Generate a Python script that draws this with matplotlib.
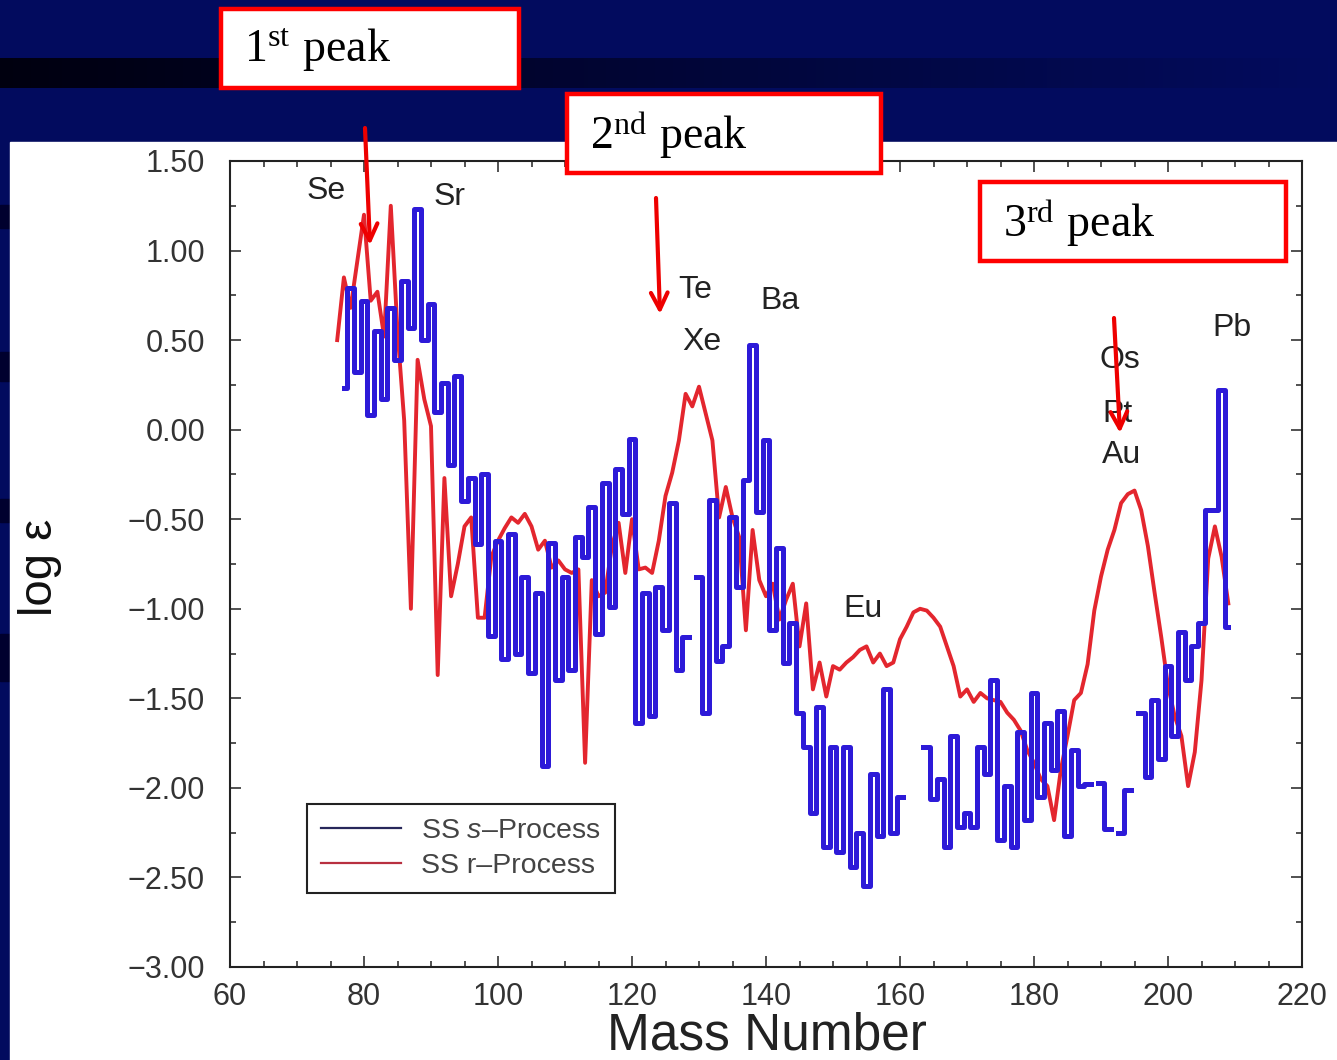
import numpy as np
import matplotlib
matplotlib.use('Agg')
import matplotlib.pyplot as plt
from matplotlib.patches import Rectangle, FancyArrowPatch
from matplotlib.lines import Line2D
from matplotlib.ticker import MultipleLocator, FuncFormatter

plt.rcParams['font.family'] = ['Liberation Sans', 'DejaVu Sans']
plt.rcParams['mathtext.fontset'] = 'custom'
plt.rcParams['mathtext.rm'] = 'Liberation Serif'
plt.rcParams['mathtext.it'] = 'Liberation Sans:italic'

# solar system s-process abundances (log eps), one value per mass number, nan = no data
s_mass = list(range(77, 210))
s_vals = [0.23, 0.79, 0.32, 0.72, 0.08, 0.55, 0.17, 0.68, 0.39, 0.83,
          0.57, 1.23, 0.50, 0.70, 0.10, 0.26, -0.20, 0.30, -0.40, -0.27,
          -0.64, -0.25, -1.15, -0.62, -1.28, -0.58, -1.25, -0.82, -1.36, -0.91,
          -1.88, -0.63, -1.40, -0.82, -1.34, -0.60, -0.71, -0.43, -1.14, -0.30,
          -0.99, -0.22, -0.47, -0.05, -1.64, -0.91, -1.60, -0.88, -1.12, -0.41,
          -1.34, -1.16, np.nan, -0.82, -1.58, -0.39, -1.29, -1.21, -0.49, -0.88,
          -0.28, 0.47, -0.46, -0.06, -1.12, -0.66, -1.30, -1.08, -1.58, -1.77,
          -2.14, -1.55, -2.33, -1.77, -2.36, -1.77, -2.44, -2.25, -2.55, -1.92,
          -2.27, -1.45, -2.25, -2.05, np.nan, np.nan, np.nan, -1.77, -2.06, -1.95,
          -2.33, -1.71, -2.22, -2.14, -2.22, -1.77, -1.92, -1.40, -2.29, -1.99,
          -2.33, -1.69, -2.18, -1.47, -2.05, -1.64, -1.90, -1.57, -2.27, -1.79,
          -1.99, -1.98, np.nan, -1.97, -2.23, np.nan, -2.25, -2.01, np.nan, -1.58,
          -1.94, -1.51, -1.84, -1.32, -1.71, -1.13, -1.40, -1.21, -1.08, -0.45,
          -0.45, 0.22, -1.10]

# solar system r-process residuals
r_mass = list(range(76, 210))
r_vals = [0.50, 0.85, 0.68, 0.94, 1.20, 0.72, 0.77, 0.52, 1.25, 0.55,
          0.05, -1.00, 0.39, 0.17, 0.02, -1.37, -0.27, -0.93, -0.75, -0.54,
          -0.49, -1.05, -1.05, -0.71, -0.62, -0.55, -0.49, -0.52, -0.47, -0.54,
          -0.67, -0.62, -0.77, -0.73, -0.78, -0.80, -0.78, -1.86, -0.84, -0.93,
          -0.91, -0.65, -0.52, -0.80, -0.50, -0.78, -0.77, -0.80, -0.62, -0.37,
          -0.24, -0.06, 0.20, 0.13, 0.24, 0.09, -0.06, -0.49, -0.32, -0.49,
          -0.60, -1.12, -0.56, -0.84, -0.93, -0.86, -1.06, -0.95, -0.86, -1.21,
          -0.97, -1.45, -1.30, -1.49, -1.32, -1.34, -1.30, -1.27, -1.23, -1.21,
          -1.30, -1.25, -1.32, -1.30, -1.17, -1.10, -1.02, -1.00, -1.01, -1.05,
          -1.10, -1.21, -1.32, -1.49, -1.45, -1.52, -1.47, -1.50, -1.51, -1.52,
          -1.58, -1.62, -1.68, -1.79, -1.86, -1.95, -1.99, -2.18, -1.90, -1.71,
          -1.51, -1.47, -1.31, -1.01, -0.82, -0.67, -0.56, -0.41, -0.36, -0.34,
          -0.45, -0.65, -0.91, -1.16, -1.43, -1.60, -1.71, -1.99, -1.80, -1.40,
          -0.72, -0.54, -0.71, -0.97]

elements = ['Se', 'Sr', 'Te', 'Xe', 'Ba', 'Eu', 'Os', 'Pt', 'Au', 'Pb']
elem_x = [74.3, 92.7, 129.4, 130.4, 142.1, 154.5, 192.8, 192.4, 193.0, 209.6]
elem_y = [1.33, 1.30, 0.78, 0.49, 0.72, -1.00, 0.39, 0.09, -0.14, 0.57]

peak_labels = [r'$\mathrm{1^{st}\ peak}$', r'$\mathrm{2^{nd}\ peak}$', r'$\mathrm{3^{rd}\ peak}$']

W, H = 1337, 1060
fig = plt.figure(figsize=(W / 100, H / 100), dpi=100)
fig.patch.set_facecolor('#020b5e')

# slide background
bg = fig.add_axes([0, 0, 1, 1], zorder=-5)
bg.set_xlim(0, W)
bg.set_ylim(H, 0)
bg.axis('off')
g = np.linspace(0, 1, 300)
left = np.array([0.0, 0.0, 0.06])
right = np.array([0.01, 0.045, 0.37])
band = (left[None, :] * (1 - g[:, None]) + right[None, :] * g[:, None])[None, :, :]
bg.imshow(band, extent=(0, W, 88, 58), aspect='auto', zorder=1)
for y0, y1 in [(205, 228), (352, 381), (499, 522), (634, 681)]:
    bg.add_patch(Rectangle((0, y0), 10, y1 - y0, color='#00002e', zorder=1))
bg.add_patch(Rectangle((10, 142), W - 10, H - 142, color='white', zorder=2))

# main chart
ax = fig.add_axes([230 / W, 93 / H, 1072 / W, 806 / H])
ax.plot(r_mass, r_vals, color='#e3262e', lw=2.8, zorder=3)
ax.plot(s_mass, np.array(s_vals, dtype=float), color='#2d1ad8', lw=3.6,
        drawstyle='steps-mid', zorder=4)

ax.set_xlim(60, 220)
ax.set_ylim(-3.0, 1.5)
ax.xaxis.set_major_locator(MultipleLocator(20))
ax.xaxis.set_minor_locator(MultipleLocator(5))
ax.yaxis.set_major_locator(MultipleLocator(0.5))
ax.yaxis.set_minor_locator(MultipleLocator(0.25))
ax.yaxis.set_major_formatter(FuncFormatter(lambda v, p: f'{v:.2f}'.replace('-', '\u2212')))
ax.tick_params(which='both', direction='in', top=True, right=True, colors='#333333',
               labelsize=22, width=1.2)
ax.tick_params(which='major', length=8)
ax.tick_params(which='minor', length=4.5)
ax.tick_params(axis='x', pad=11)
ax.tick_params(axis='y', pad=18)
for sp in ax.spines.values():
    sp.set_color('#222222')
    sp.set_linewidth(1.5)

for name, x, y in zip(elements, elem_x, elem_y):
    ax.text(x, y, name, fontsize=23, color='#222222', ha='center', va='center', zorder=6)

handles = [Line2D([], [], color='#27275a', lw=1.6), Line2D([], [], color='#b83040', lw=1.6)]
leg = ax.legend(handles, [r'SS $\mathit{s}$–Process', 'SS r–Process'],
                loc='lower left', bbox_to_anchor=(0.072, 0.092), fontsize=20.5,
                handlelength=2.8, handletextpad=0.7, labelspacing=0.3,
                borderpad=0.5, borderaxespad=0, fancybox=False, framealpha=1)
leg.get_frame().set_edgecolor('#222222')
leg.get_frame().set_linewidth(1.5)
for t in leg.get_texts():
    t.set_color('#444444')

fig.text(767 / W, 0, 'Mass Number', fontsize=37, color='#222222',
         ha='center', va='bottom')
fig.text(40 / W, 1 - 567 / H, 'log ε', fontsize=34, color='#111111',
         rotation=90, ha='center', va='center')

# overlay: peak boxes and arrows (pixel coords)
ov = fig.add_axes([0, 0, 1, 1], zorder=10)
ov.set_xlim(0, W)
ov.set_ylim(H, 0)
ov.axis('off')
ov.patch.set_alpha(0)
boxes = [(221, 9, 519, 88), (567, 94, 881, 173), (980, 182, 1286, 261)]
for (x0, y0, x1, y1), lab in zip(boxes, peak_labels):
    ov.add_patch(Rectangle((x0, y0), x1 - x0, y1 - y0, facecolor='white',
                           edgecolor='#ff0000', lw=3.2))
    ov.text(x0 + 23, (y0 + y1) / 2 + 2, lab, fontsize=33, color='black',
            ha='left', va='center')
arrows = [((365, 128), (370, 245)), ((656, 198), (660, 314)), ((1114, 318), (1120, 433))]
for (xa, ya), (xb, yb) in arrows:
    ov.add_patch(FancyArrowPatch((xa, ya), (xb, yb), arrowstyle='->', color='#ee0000',
                                 lw=3, mutation_scale=30, shrinkA=0, shrinkB=0))

fig.savefig('out.png', dpi=100, facecolor=fig.get_facecolor())
